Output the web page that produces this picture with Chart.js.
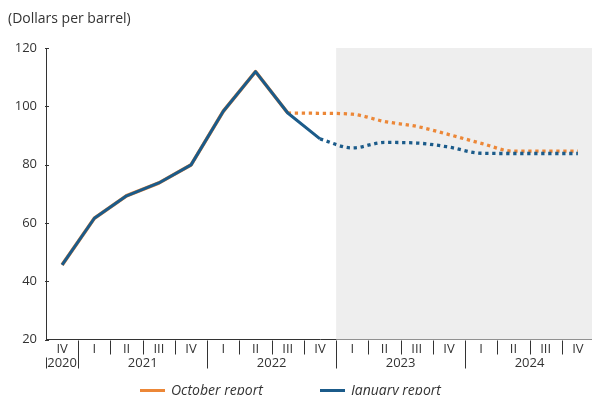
<!DOCTYPE html>
<html>
<head>
<meta charset="utf-8">
<script src="https://cdn.jsdelivr.net/npm/chart.js@4/dist/chart.umd.min.js"></script>
<style>
  html, body { margin: 0; padding: 0; background: #fff; overflow: hidden; }
  #wrap { position: relative; width: 592px; height: 395px; overflow: hidden; }
  #c { position: absolute; left: 0; top: 0; }
  .unit { position: absolute; left: 8px; top: 8px; font: 14px "Open Sans", sans-serif; color: #333; }
  .legend { position: absolute; top: 380px; font: italic 14px "Open Sans", sans-serif; color: #333; white-space: nowrap; }
  .legend span.sw { display: inline-block; width: 25px; height: 3px; vertical-align: middle; margin-right: 6px; position: relative; top: -1px; }
</style>
</head>
<body>
<div id="wrap">
  <canvas id="c" width="594" height="395"></canvas>
  <div class="unit">(Dollars per barrel)</div>
  <div class="legend" style="left:140px"><span class="sw" style="background:#ec8737"></span>October report</div>
  <div class="legend" style="left:320px"><span class="sw" style="background:#1b5b8a"></span>January report</div>
</div>
<script>
// Quarters from 2020 Q4 to 2024 Q4
const quarterLabels = ['IV', 'I', 'II', 'III', 'IV', 'I', 'II', 'III', 'IV', 'I', 'II', 'III', 'IV', 'I', 'II', 'III', 'IV'];
const quarterYears = ['2020', '2021', '2021', '2021', '2021', '2022', '2022', '2022', '2022',
                      '2023', '2023', '2023', '2023', '2024', '2024', '2024', '2024'];
const yTicks = [20, 40, 60, 80, 100, 120];

// Price history shared by both reports (2020 IV – 2022 III)
const history = [45.6, 61.6, 69.3, 73.7, 79.9, 98.3, 111.9, 97.7];
// October report projection (2022 IV – 2024 IV)
const octoberForecast = [97.6, 97.3, 94.8, 93.1, 90.3, 87.3, 84.6, 84.6, 84.6];
// January report: actual for 2022 IV, then projection (2023 I – 2024 IV)
const januaryActual = 88.8;
const januaryForecast = [85.7, 87.6, 87.4, 86.0, 83.9, 83.8, 83.8, 83.8];
// First projected quarter (shaded area starts here)
const forecastStart = 9;

const ORANGE = '#ec8737';
const BLUE = '#1b5b8a';
const TEXT = '#333333';
const FONT = '"Open Sans", sans-serif';

const n = quarterLabels.length;
const pad = k => Array(k).fill(null);

const janSolid = [...history, januaryActual, ...pad(n - history.length - 1)];
const octSolid = [...history, ...pad(n - history.length)];
const octDotted = [...pad(history.length - 1), history[history.length - 1], ...octoberForecast];
const janDotted = [...pad(history.length), januaryActual, ...januaryForecast];

const dotted = [3.3, 3.7];

const decorations = {
  id: 'decorations',
  beforeDatasetsDraw(chart) {
    const { ctx, chartArea, scales: { x } } = chart;
    const half = (x.getPixelForValue(1) - x.getPixelForValue(0)) / 2;
    const left = x.getPixelForValue(forecastStart) - half;
    ctx.save();
    ctx.fillStyle = '#eeeeee';
    ctx.fillRect(left, chartArea.top, chartArea.right - left, chartArea.bottom - chartArea.top);
    ctx.restore();
  },
  afterDraw(chart) {
    const { ctx, chartArea, scales: { x, y } } = chart;
    const half = (x.getPixelForValue(1) - x.getPixelForValue(0)) / 2;
    const base = Math.round(chartArea.bottom) + 0.5;
    ctx.save();
    ctx.strokeStyle = TEXT;
    ctx.lineWidth = 1;
    // quarter separators; longer ones mark a new year
    for (let i = 1; i < n; i++) {
      const px = Math.round(x.getPixelForValue(i) - half) + 0.5;
      const newYear = quarterYears[i] !== quarterYears[i - 1];
      ctx.beginPath();
      ctx.moveTo(px, base);
      ctx.lineTo(px, base + (newYear ? 28 : 14));
      ctx.stroke();
    }
    // left bracket under the first year
    const lx = Math.round(chartArea.left) + 0.5;
    ctx.beginPath();
    ctx.moveTo(lx, base + 17);
    ctx.lineTo(lx, base + 28);
    ctx.stroke();
    // inward tick marks on the value axis
    yTicks.forEach(v => {
      const py = Math.round(y.getPixelForValue(v)) + 0.5;
      ctx.beginPath();
      ctx.moveTo(chartArea.left - 1, py);
      ctx.lineTo(chartArea.left + 3, py);
      ctx.stroke();
    });
    // year labels centred under their quarters
    ctx.fillStyle = TEXT;
    ctx.font = '13px ' + FONT;
    ctx.textAlign = 'center';
    ctx.textBaseline = 'middle';
    let start = 0;
    for (let i = 1; i <= n; i++) {
      if (i === n || quarterYears[i] !== quarterYears[start]) {
        const cx = (x.getPixelForValue(start) + x.getPixelForValue(i - 1)) / 2;
        ctx.fillText(quarterYears[start], cx, base + 23);
        start = i;
      }
    }
    ctx.restore();
  }
};

new Chart(document.getElementById('c'), {
  type: 'line',
  data: {
    labels: quarterLabels,
    datasets: [
      { label: 'January report', data: janSolid, borderColor: BLUE, borderWidth: 3, tension: 0 },
      { label: 'October report', data: octSolid, borderColor: ORANGE, borderWidth: 3.6, tension: 0 },
      { label: 'January report', data: janDotted, borderColor: BLUE, borderWidth: 3.3, borderDash: dotted, cubicInterpolationMode: 'monotone' },
      { label: 'October report', data: octDotted, borderColor: ORANGE, borderWidth: 3.3, borderDash: dotted, cubicInterpolationMode: 'monotone' }
    ]
  },
  options: {
    responsive: false,
    animation: false,
    events: [],
    layout: { padding: { top: 48, right: 0, left: 0, bottom: 0 } },
    elements: {
      point: { radius: 0 },
      line: { borderCapStyle: 'butt', borderJoinStyle: 'round', fill: false }
    },
    plugins: { legend: { display: false }, tooltip: { enabled: false } },
    scales: {
      x: {
        offset: true,
        grid: { display: false, drawTicks: false },
        border: { display: true, color: TEXT, width: 1 },
        ticks: { color: TEXT, font: { family: FONT, size: 13 }, padding: 2, maxRotation: 0, autoSkip: false },
        afterFit(scale) { scale.height = 55.5; }
      },
      y: {
        min: 20,
        max: 120,
        afterBuildTicks(scale) { scale.ticks = yTicks.map(v => ({ value: v })); },
        grid: { display: false, drawTicks: false },
        border: { display: true, color: TEXT, width: 1 },
        ticks: { color: TEXT, font: { family: FONT, size: 13 }, padding: 9 },
        afterFit(scale) { scale.width = 46; }
      }
    }
  },
  plugins: [decorations]
});
</script>
</body>
</html>
